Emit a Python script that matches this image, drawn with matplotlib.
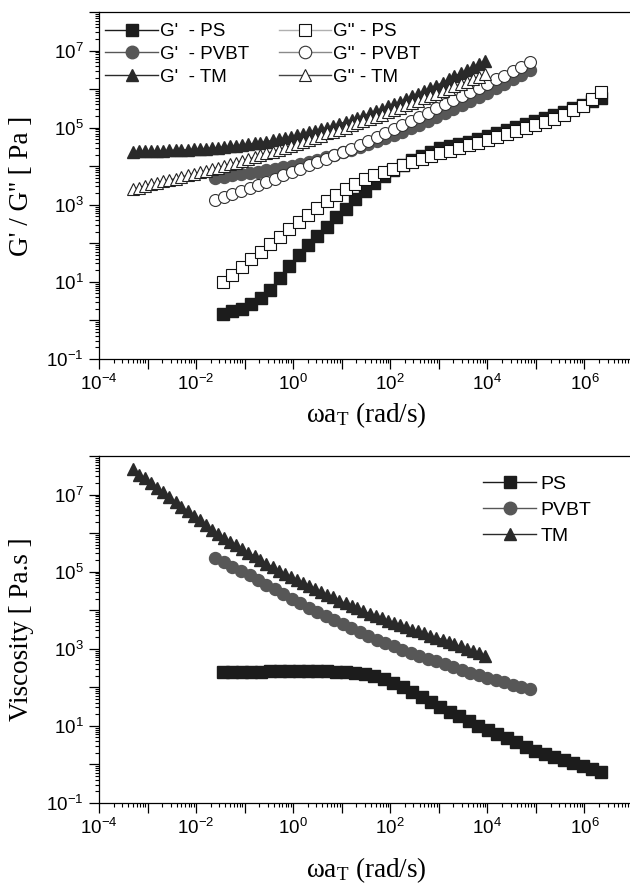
import numpy as np
import matplotlib.pyplot as plt
from matplotlib.ticker import LogLocator, FuncFormatter, NullFormatter

plt.rcParams['font.family'] = ['Liberation Sans', 'DejaVu Sans']

# ---- PS ----
w_ps = [0.0355, 0.0556, 0.0871, 0.136, 0.214, 0.335, 0.525, 0.822, 1.29, 2.02,
        3.16, 4.95, 7.76, 12.2, 19.1, 29.9, 46.8, 73.3, 115, 180,
        282, 442, 692, 1080, 1700, 2660, 4170, 6530, 1.02e4, 1.6e4,
        2.51e4, 3.94e4, 6.17e4, 9.66e4, 1.51e5, 2.37e5, 3.72e5, 5.82e5, 9.12e5, 1.43e6,
        2.24e6]
gp_ps = [1.51, 1.74, 2.04, 2.69, 3.80, 6.17, 12.6, 25.7, 49.0, 89.1,
         158, 269, 468, 794, 1380, 2340, 3630, 5500, 8130, 1.10e4,
         1.48e4, 1.86e4, 2.34e4, 2.95e4, 3.31e4, 3.80e4, 4.37e4, 5.13e4, 6.03e4, 7.24e4,
         8.51e4, 1.02e5, 1.23e5, 1.45e5, 1.74e5, 2.14e5, 2.57e5, 3.16e5, 3.80e5, 4.79e5,
         6.03e5]
gpp_ps = [10.0, 15.5, 24.5, 38.9, 60.3, 95.5, 148, 234, 355, 550,
          832, 1230, 1820, 2570, 3470, 4570, 5750, 7240, 8710, 1.05e4,
          1.26e4, 1.51e4, 1.82e4, 2.14e4, 2.51e4, 2.95e4, 3.47e4, 4.07e4, 4.79e4, 5.75e4,
          6.76e4, 8.13e4, 9.77e4, 1.15e5, 1.41e5, 1.70e5, 2.09e5, 2.82e5, 3.72e5, 5.5e5,
          8.32e5]
eta_ps = [251, 251, 251, 257, 257, 263, 263, 269, 269, 269,
          269, 263, 257, 251, 240, 224, 195, 162, 129, 100,
          75, 56.2, 42.2, 31.6, 23.4, 17.8, 13.2, 10.2, 7.94, 6.17,
          4.79, 3.72, 2.88, 2.29, 1.91, 1.58, 1.32, 1.12, 0.933, 0.776,
          0.646]

# ---- PVBT ----
w_pvbt = [0.0251, 0.0376, 0.0562, 0.0841, 0.126, 0.188, 0.282, 0.422, 0.631, 0.944,
          1.41, 2.11, 3.16, 4.73, 7.08, 10.6, 15.8, 23.7, 35.5, 53.1,
          79.4, 119, 178, 266, 398, 596, 891, 1330, 2000, 2990,
          4470, 6680, 1.0e4, 1.5e4, 2.24e4, 3.35e4, 5.01e4, 7.5e4]
gp_pvbt = [5.01e3, 5.37e3, 5.75e3, 6.17e3, 6.61e3, 7.24e3, 7.76e3, 8.51e3, 9.33e3, 1.02e4,
           1.17e4, 1.32e4, 1.48e4, 1.70e4, 2.0e4, 2.29e4, 2.69e4, 3.16e4, 3.72e4, 4.47e4,
           5.37e4, 6.46e4, 7.94e4, 9.77e4, 1.20e5, 1.51e5, 1.91e5, 2.40e5, 3.02e5, 3.80e5,
           4.90e5, 6.31e5, 8.13e5, 1.05e6, 1.35e6, 1.78e6, 2.34e6, 3.16e6]
gpp_pvbt = [1.32e3, 1.58e3, 1.86e3, 2.24e3, 2.69e3, 3.24e3, 3.98e3, 4.79e3, 5.75e3, 7.08e3,
            8.51e3, 1.05e4, 1.26e4, 1.55e4, 1.91e4, 2.29e4, 2.88e4, 3.55e4, 4.47e4, 5.75e4,
            7.24e4, 9.33e4, 1.17e5, 1.51e5, 1.91e5, 2.45e5, 3.16e5, 4.07e5, 5.25e5, 6.76e5,
            8.51e5, 1.10e6, 1.38e6, 1.78e6, 2.24e6, 2.88e6, 3.80e6, 5.01e6]
eta_pvbt = [2.24e5, 1.74e5, 1.35e5, 1.07e5, 8.13e4, 6.03e4, 4.57e4, 3.47e4, 2.63e4, 2.0e4,
            1.51e4, 1.17e4, 8.91e3, 7.08e3, 5.5e3, 4.37e3, 3.39e3, 2.69e3, 2.14e3, 1.74e3,
            1.41e3, 1.15e3, 955, 794, 661, 550, 468, 398, 331, 282,
            240, 209, 178, 155, 135, 117, 105, 93]

# ---- TM ----
w_tm = [5.0e-4, 6.7e-4, 8.9e-4, 1.2e-3, 1.6e-3, 2.1e-3, 2.8e-3, 3.8e-3,
        5.0e-3, 6.7e-3, 8.9e-3, 1.2e-2, 1.6e-2, 2.1e-2, 2.8e-2, 3.8e-2,
        5.0e-2, 6.7e-2, 8.9e-2, 0.12, 0.16, 0.21, 0.28, 0.38,
        0.50, 0.67, 0.89, 1.2, 1.6, 2.1, 2.8, 3.8,
        5.0, 6.7, 8.9, 12, 16, 21, 28, 38,
        50, 67, 89, 120, 160, 210, 280, 380,
        500, 670, 890, 1.2e3, 1.6e3, 2.1e3, 2.8e3, 3.8e3,
        5.0e3, 6.7e3, 8.9e3]
gp_tm = [2.40e4, 2.43e4, 2.45e4, 2.48e4, 2.51e4, 2.54e4, 2.57e4, 2.60e4,
         2.63e4, 2.69e4, 2.75e4, 2.82e4, 2.88e4, 2.95e4, 3.05e4, 3.16e4,
         3.27e4, 3.39e4, 3.55e4, 3.72e4, 3.89e4, 4.12e4, 4.37e4, 4.68e4,
         5.01e4, 5.37e4, 5.75e4, 6.31e4, 6.92e4, 7.59e4, 8.32e4, 9.12e4,
         1.0e5, 1.12e5, 1.26e5, 1.41e5, 1.58e5, 1.78e5, 2.04e5, 2.34e5,
         2.69e5, 3.09e5, 3.55e5, 4.07e5, 4.68e5, 5.5e5, 6.46e5, 7.59e5,
         8.91e5, 1.05e6, 1.23e6, 1.48e6, 1.78e6, 2.14e6, 2.57e6, 3.09e6,
         3.72e6, 4.47e6, 5.5e6]
gpp_tm = [2.51e3, 2.75e3, 3.02e3, 3.39e3, 3.72e3, 4.07e3, 4.37e3, 4.79e3,
          5.25e3, 5.75e3, 6.31e3, 6.92e3, 7.59e3, 8.32e3, 9.12e3, 1.02e4,
          1.12e4, 1.23e4, 1.35e4, 1.51e4, 1.70e4, 1.91e4, 2.14e4, 2.40e4,
          2.69e4, 3.02e4, 3.39e4, 3.80e4, 4.37e4, 4.90e4, 5.50e4, 6.17e4,
          7.08e4, 7.94e4, 8.91e4, 1.0e5, 1.15e5, 1.29e5, 1.48e5, 1.66e5,
          1.91e5, 2.19e5, 2.51e5, 2.88e5, 3.31e5, 3.80e5, 4.37e5, 5.01e5,
          5.75e5, 6.61e5, 7.59e5, 8.71e5, 1.0e6, 1.17e6, 1.35e6, 1.55e6,
          1.82e6, 2.09e6, 2.40e6]
eta_tm = [4.47e7, 3.24e7, 2.69e7, 2.04e7, 1.51e7, 1.15e7, 8.51e6, 6.46e6,
          4.90e6, 3.72e6, 2.82e6, 2.14e6, 1.62e6, 1.23e6, 9.55e5, 7.41e5,
          6.03e5, 4.79e5, 3.89e5, 3.09e5, 2.51e5, 2.0e5, 1.62e5, 1.32e5,
          1.07e5, 8.71e4, 7.24e4, 6.03e4, 5.01e4, 4.27e4, 3.55e4, 3.02e4,
          2.51e4, 2.14e4, 1.78e4, 1.51e4, 1.29e4, 1.12e4, 9.55e3, 8.13e3,
          7.08e3, 6.17e3, 5.37e3, 4.68e3, 4.07e3, 3.63e3, 3.16e3, 2.82e3,
          2.51e3, 2.19e3, 1.95e3, 1.74e3, 1.51e3, 1.32e3, 1.15e3, 1.0e3,
          871, 759, 661]

c_ps = '#1c1c1c'
c_pvbt = '#575757'
c_tm = '#2a2a2a'
ms_sq, ms_ci, ms_tr = 8.2, 8.6, 9.2


def setup_axis(ax, xlabel, ylabel):
    ax.set_xscale('log')
    ax.set_yscale('log')
    ax.set_xlim(1e-4, 1e7)
    ax.set_ylim(1e-1, 1e8)
    ax.xaxis.set_major_locator(LogLocator(base=10, numticks=30))
    ax.yaxis.set_major_locator(LogLocator(base=10, numticks=30))
    ax.xaxis.set_minor_locator(LogLocator(base=10, subs=np.arange(2, 10), numticks=30))
    ax.yaxis.set_minor_locator(LogLocator(base=10, subs=np.arange(2, 10), numticks=30))
    ax.xaxis.set_major_formatter(FuncFormatter(
        lambda v, p: r'$\mathregular{10^{%d}}$' % round(np.log10(v)) if round(np.log10(v)) % 2 == 0 else ''))
    ax.yaxis.set_major_formatter(FuncFormatter(
        lambda v, p: r'$\mathregular{10^{%d}}$' % round(np.log10(v)) if round(np.log10(v)) % 2 == 1 else ''))
    ax.xaxis.set_minor_formatter(NullFormatter())
    ax.yaxis.set_minor_formatter(NullFormatter())
    ax.tick_params(which='major', direction='out', length=7, width=0.9, labelsize=13.5, pad=4)
    ax.tick_params(which='minor', direction='out', length=3.2, width=0.8)
    ax.tick_params(top=False, right=False)
    for s in ax.spines.values():
        s.set_linewidth(0.9)
    ax.set_xlabel(xlabel, family='Liberation Serif', fontsize=19.5)
    ax.set_ylabel(ylabel, family='Liberation Serif', fontsize=19.5, labelpad=9)


fig = plt.figure(figsize=(6.3, 8.9), dpi=100)
ax1 = fig.add_axes([99 / 630, 1 - 359 / 890, 534 / 630, 347 / 890])
ax2 = fig.add_axes([99 / 630, 1 - 803 / 890, 534 / 630, 347 / 890])

# moduli
ax1.plot(w_ps, gp_ps, '-s', color=c_ps, mfc=c_ps, mec=c_ps, ms=ms_sq, lw=1, label="G'  - PS")
ax1.plot(w_pvbt, gp_pvbt, '-o', color=c_pvbt, mfc=c_pvbt, mec=c_pvbt, ms=ms_ci, lw=1, label="G'  - PVBT")
ax1.plot(w_tm, gp_tm, '-^', color=c_tm, mfc=c_tm, mec=c_tm, ms=ms_tr, lw=1, label="G'  - TM")
ax1.plot(w_ps, gpp_ps, '-s', color='#b0b0b0', mfc='white', mec='#111111', mew=0.8, ms=ms_sq, lw=1, label="G'' - PS")
ax1.plot(w_pvbt, gpp_pvbt, '-o', color='#8a8a8a', mfc='white', mec='#333333', mew=0.8, ms=ms_ci, lw=1, label="G'' - PVBT")
ax1.plot(w_tm, gpp_tm, '-^', color='#444444', mfc='white', mec='#222222', mew=0.8, ms=ms_tr, lw=1, label="G'' - TM")
setup_axis(ax1, r'ωa$\mathregular{_T}$ (rad/s)', "G' / G'' [ Pa ]")
ax1.xaxis.labelpad = 4
leg1 = ax1.legend(loc='upper left', bbox_to_anchor=(0.012, 0.968), ncol=2, frameon=False,
                  fontsize=13.5, handlelength=2.8, handletextpad=0.1, columnspacing=1.6,
                  labelspacing=0.3, borderpad=0, borderaxespad=0, numpoints=1)
for h in leg1.legend_handles:
    h.set_markersize(9)

# viscosity
ax2.plot(w_ps, eta_ps, '-s', color=c_ps, mfc=c_ps, mec=c_ps, ms=ms_sq, lw=1, label='PS')
ax2.plot(w_pvbt, eta_pvbt, '-o', color=c_pvbt, mfc=c_pvbt, mec=c_pvbt, ms=ms_ci, lw=1, label='PVBT')
ax2.plot(w_tm, eta_tm, '-^', color=c_tm, mfc=c_tm, mec=c_tm, ms=ms_tr, lw=1, label='TM')
setup_axis(ax2, r'ωa$\mathregular{_T}$ (rad/s)', 'Viscosity [ Pa.s ]')
ax2.xaxis.labelpad = 12
leg2 = ax2.legend(loc='upper left', bbox_to_anchor=(0.72, 0.944), frameon=False,
                  fontsize=14, handlelength=2.7, handletextpad=0.25,
                  labelspacing=0.42, borderpad=0, borderaxespad=0, numpoints=1)
for h in leg2.legend_handles:
    h.set_markersize(9)

fig.savefig('out.png', dpi=100)
